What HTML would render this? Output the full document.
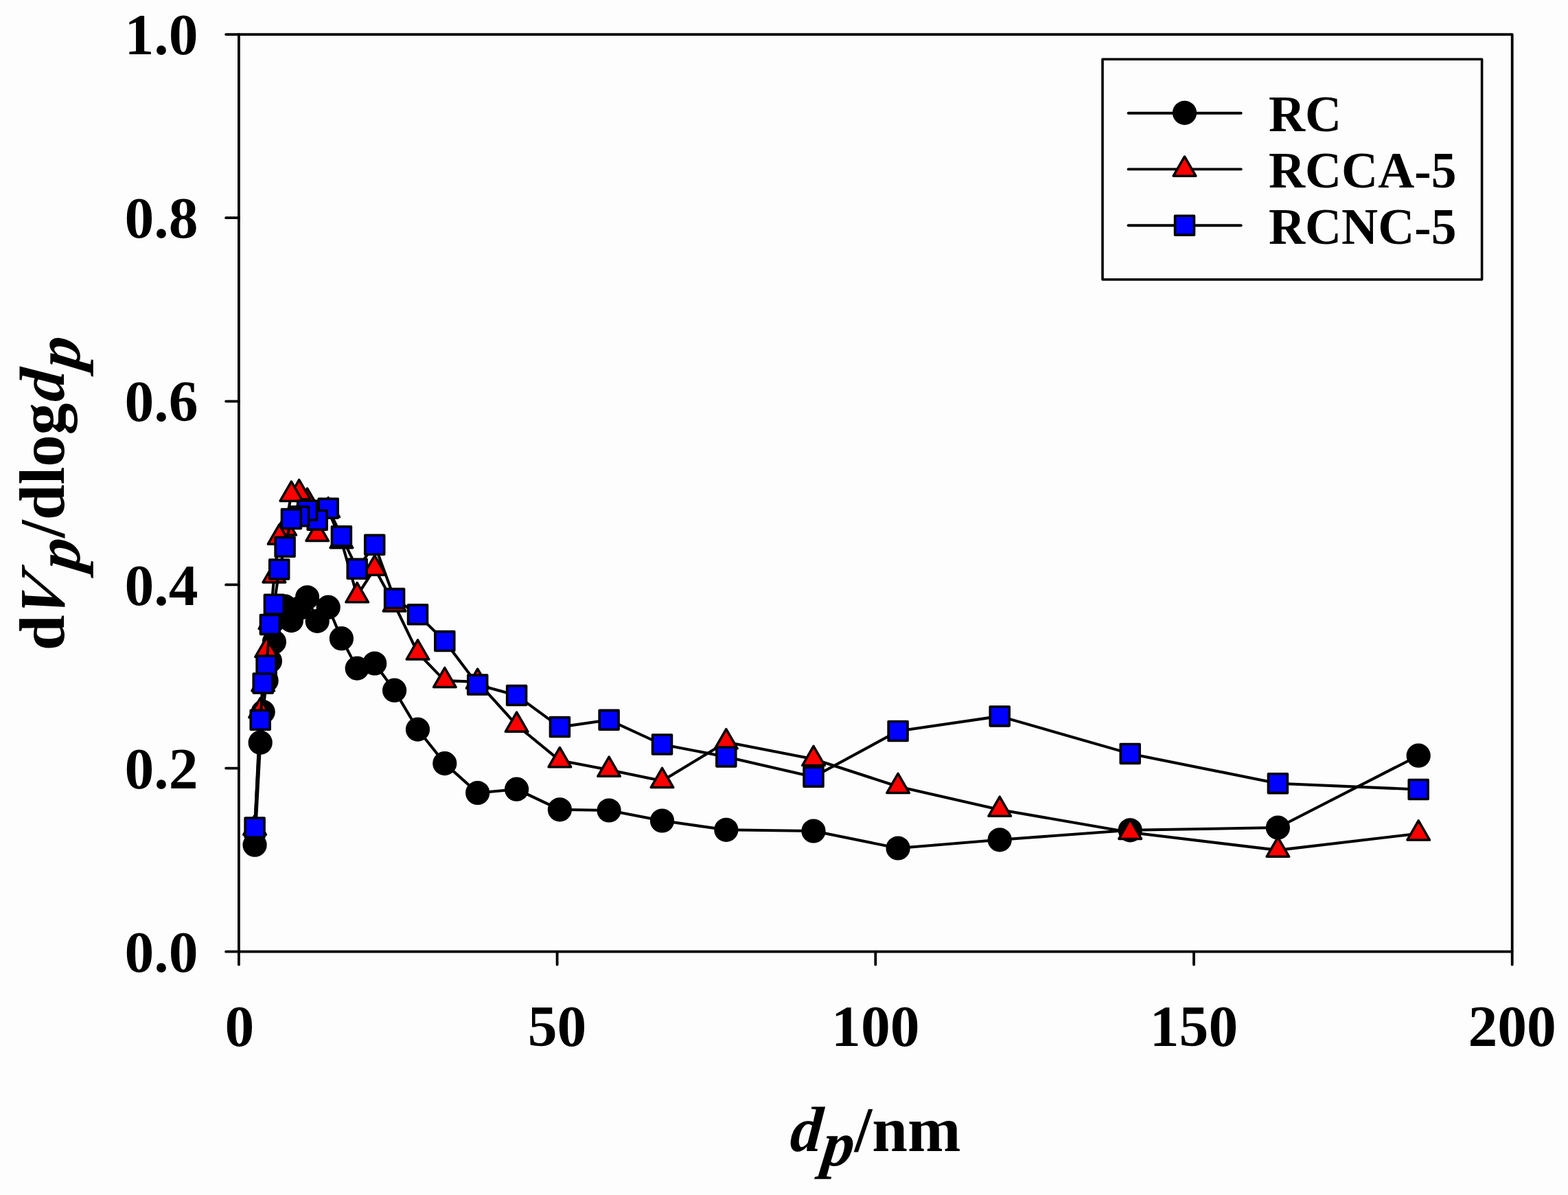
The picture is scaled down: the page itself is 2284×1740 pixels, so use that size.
<!DOCTYPE html>
<html lang="en"><head><meta charset="utf-8"><title>Pore size distribution</title>
<style>html,body{margin:0;padding:0;background:#fdfdfd}body{width:2284px;height:1740px;overflow:hidden}svg{display:block}text{font-family:"Liberation Serif",serif;font-weight:bold;fill:#000}.i{font-style:italic}.tk{font-size:85.6px}.lg{font-size:73.5px}.ax{font-size:93px}</style></head><body>
<svg width="2284" height="1740" viewBox="0 0 2284 1740">
<rect width="2284" height="1740" fill="#fdfdfd"/>
<g fill="none" stroke="#000" stroke-width="3.8" stroke-linecap="round" stroke-linejoin="round">
<rect x="347.9" y="50.05" width="1854.8" height="1335.65"/>
<path d="M347.9 1385.7h-18.8M347.9 1118.57h-18.8M347.9 851.44h-18.8M347.9 584.31h-18.8M347.9 317.18h-18.8M347.9 50.05h-18.8M347.9 1385.7v18.8M811.6 1385.7v18.8M1275.3 1385.7v18.8M1739 1385.7v18.8M2202.7 1385.7v18.8"/>
</g>
<g class="tk" text-anchor="end">
<text x="288.5" y="1415.2">0.0</text>
<text x="288.5" y="1147.87">0.2</text>
<text x="288.5" y="880.54">0.4</text>
<text x="288.5" y="613.21">0.6</text>
<text x="288.5" y="345.88">0.8</text>
<text x="288.5" y="78.55">1.0</text>
</g>
<g class="tk" text-anchor="middle">
<text x="348.9" y="1522.5">0</text>
<text x="811.6" y="1522.5">50</text>
<text x="1275.3" y="1522.5">100</text>
<text x="1739" y="1522.5">150</text>
<text x="2202.7" y="1522.5">200</text>
</g>
<g class="ax">
<text class="i" transform="translate(1149.6 1675.8) skewX(-4.5)">d</text>
<text class="i" transform="translate(1195.0 1696.8) skewX(-7)">p</text>
<text x="1244.5" y="1675.8">/nm</text>
</g>
<g class="ax" transform="translate(93.2 717.9) rotate(-90)">
<text x="-229.4" y="0">d</text>
<text class="i" transform="translate(-189.3 0) skewX(-16)">V</text>
<text class="i" transform="translate(-115.2 22.7) skewX(-7)">p</text>
<text x="-65.2" y="0">/dlog</text>
<text class="i" transform="translate(131.8 0) skewX(-4.5)">d</text>
<text class="i" transform="translate(178.3 22.7) skewX(-7)">p</text>
</g>
<g fill="none" stroke="#000" stroke-width="4.1" stroke-linejoin="round" stroke-linecap="round"><polyline points="371.1,1230.2 379.2,1081.2 383.2,1036.6 388.1,991 393.4,962.5 399.4,934.8 406.7,898.2 415.1,882.9 424.4,903.6 435.7,885.9 447.6,869.8 462.2,904.4 478.2,884.2 497.4,929.7 520.2,973.1 545.7,966 574.6,1005.2 608.5,1062.1 647.8,1111.6 695.7,1154.5 752.6,1149.2 815.4,1178.8 887.1,1180 964.5,1195 1057.8,1208.3 1185,1210 1308.1,1235 1456.2,1222.8 1646.2,1208.8 1861.4,1205 2066.2,1100.2"/></g>
<g fill="#000" stroke="#000" stroke-width="3.6" stroke-linejoin="round">
<circle cx="2066.2" cy="1100.2" r="15.8"/>
<circle cx="1861.4" cy="1205" r="15.8"/>
<circle cx="1646.2" cy="1208.8" r="15.8"/>
<circle cx="1456.2" cy="1222.8" r="15.8"/>
<circle cx="1308.1" cy="1235" r="15.8"/>
<circle cx="1185" cy="1210" r="15.8"/>
<circle cx="1057.8" cy="1208.3" r="15.8"/>
<circle cx="964.5" cy="1195" r="15.8"/>
<circle cx="887.1" cy="1180" r="15.8"/>
<circle cx="815.4" cy="1178.8" r="15.8"/>
<circle cx="752.6" cy="1149.2" r="15.8"/>
<circle cx="695.7" cy="1154.5" r="15.8"/>
<circle cx="647.8" cy="1111.6" r="15.8"/>
<circle cx="608.5" cy="1062.1" r="15.8"/>
<circle cx="574.6" cy="1005.2" r="15.8"/>
<circle cx="545.7" cy="966" r="15.8"/>
<circle cx="520.2" cy="973.1" r="15.8"/>
<circle cx="497.4" cy="929.7" r="15.8"/>
<circle cx="478.2" cy="884.2" r="15.8"/>
<circle cx="462.2" cy="904.4" r="15.8"/>
<circle cx="447.6" cy="869.8" r="15.8"/>
<circle cx="435.7" cy="885.9" r="15.8"/>
<circle cx="424.4" cy="903.6" r="15.8"/>
<circle cx="415.1" cy="882.9" r="15.8"/>
<circle cx="406.7" cy="898.2" r="15.8"/>
<circle cx="399.4" cy="934.8" r="15.8"/>
<circle cx="393.4" cy="962.5" r="15.8"/>
<circle cx="388.1" cy="991" r="15.8"/>
<circle cx="383.2" cy="1036.6" r="15.8"/>
<circle cx="379.2" cy="1081.2" r="15.8"/>
<circle cx="371.1" cy="1230.2" r="15.8"/>
</g>
<g fill="none" stroke="#000" stroke-width="4.1" stroke-linejoin="round" stroke-linecap="round"><polyline points="371.1,1206 379.2,1035.3 383.2,996.5 388.1,947.1 393.4,906.1 399.4,838.5 406.7,782.8 415.1,769.7 424.4,720 435.7,717.5 447.6,730 462.2,778.1 478.2,743.4 497.4,788.3 520.2,867.4 545.7,827.8 574.6,880.5 608.5,950.6 647.8,991.1 695.7,992.8 752.6,1055.9 815.4,1107.3 887.1,1120.9 964.5,1137.1 1057.8,1080.5 1185,1105.2 1308.1,1145.2 1456.2,1178.9 1646.2,1212 1861.4,1237.9 2066.2,1213.7"/></g>
<g fill="#f00" stroke="#000" stroke-width="3.5" stroke-linejoin="round">
<path d="M2066.2 1194.87L2082.5 1223.12H2049.9Z"/>
<path d="M1861.4 1219.07L1877.7 1247.32H1845.1Z"/>
<path d="M1646.2 1193.17L1662.5 1221.42H1629.9Z"/>
<path d="M1456.2 1160.07L1472.5 1188.32H1439.9Z"/>
<path d="M1308.1 1126.37L1324.4 1154.62H1291.8Z"/>
<path d="M1185 1086.37L1201.3 1114.62H1168.7Z"/>
<path d="M1057.8 1061.67L1074.1 1089.92H1041.5Z"/>
<path d="M964.5 1118.27L980.8 1146.52H948.2Z"/>
<path d="M887.1 1102.07L903.4 1130.32H870.8Z"/>
<path d="M815.4 1088.47L831.7 1116.72H799.1Z"/>
<path d="M752.6 1037.07L768.9 1065.32H736.3Z"/>
<path d="M695.7 973.97L712 1002.22H679.4Z"/>
<path d="M647.8 972.27L664.1 1000.52H631.5Z"/>
<path d="M608.5 931.77L624.8 960.02H592.2Z"/>
<path d="M574.6 861.67L590.9 889.92H558.3Z"/>
<path d="M545.7 808.97L562 837.22H529.4Z"/>
<path d="M520.2 848.57L536.5 876.82H503.9Z"/>
<path d="M497.4 769.47L513.7 797.72H481.1Z"/>
<path d="M478.2 724.57L494.5 752.82H461.9Z"/>
<path d="M462.2 759.27L478.5 787.52H445.9Z"/>
<path d="M447.6 711.17L463.9 739.42H431.3Z"/>
<path d="M435.7 698.67L452 726.92H419.4Z"/>
<path d="M424.4 701.17L440.7 729.42H408.1Z"/>
<path d="M415.1 750.87L431.4 779.12H398.8Z"/>
<path d="M406.7 763.97L423 792.22H390.4Z"/>
<path d="M399.4 819.67L415.7 847.92H383.1Z"/>
<path d="M393.4 887.27L409.7 915.52H377.1Z"/>
<path d="M388.1 928.27L404.4 956.52H371.8Z"/>
<path d="M383.2 977.67L399.5 1005.92H366.9Z"/>
<path d="M379.2 1016.47L395.5 1044.72H362.9Z"/>
<path d="M371.1 1187.17L387.4 1215.42H354.8Z"/>
</g>
<g fill="none" stroke="#000" stroke-width="4.1" stroke-linejoin="round" stroke-linecap="round"><polyline points="371.1,1205 379.2,1048.3 383.2,995 388.1,969 393.4,909.4 399.4,880.2 406.7,829.1 415.1,796.3 424.4,755.6 435.7,751.8 447.6,743.2 462.2,757.2 478.2,740.3 497.4,780.8 520.2,828.3 545.7,793.3 574.6,871.6 608.5,894.8 647.8,933.6 695.7,997.1 752.6,1012.6 815.4,1058.6 887.1,1048.3 964.5,1084 1057.8,1101.9 1185,1131.2 1308.1,1064.5 1456.2,1042.9 1646.2,1097.4 1861.4,1140.7 2066.2,1149.5"/></g>
<g fill="#00f" stroke="#000" stroke-width="3.6" stroke-linejoin="round">
<rect x="2052.25" y="1135.55" width="27.9" height="27.9"/>
<rect x="1847.45" y="1126.75" width="27.9" height="27.9"/>
<rect x="1632.25" y="1083.45" width="27.9" height="27.9"/>
<rect x="1442.25" y="1028.95" width="27.9" height="27.9"/>
<rect x="1294.15" y="1050.55" width="27.9" height="27.9"/>
<rect x="1171.05" y="1117.25" width="27.9" height="27.9"/>
<rect x="1043.85" y="1087.95" width="27.9" height="27.9"/>
<rect x="950.55" y="1070.05" width="27.9" height="27.9"/>
<rect x="873.15" y="1034.35" width="27.9" height="27.9"/>
<rect x="801.45" y="1044.65" width="27.9" height="27.9"/>
<rect x="738.65" y="998.65" width="27.9" height="27.9"/>
<rect x="681.75" y="983.15" width="27.9" height="27.9"/>
<rect x="633.85" y="919.65" width="27.9" height="27.9"/>
<rect x="594.55" y="880.85" width="27.9" height="27.9"/>
<rect x="560.65" y="857.65" width="27.9" height="27.9"/>
<rect x="531.75" y="779.35" width="27.9" height="27.9"/>
<rect x="506.25" y="814.35" width="27.9" height="27.9"/>
<rect x="483.45" y="766.85" width="27.9" height="27.9"/>
<rect x="464.25" y="726.35" width="27.9" height="27.9"/>
<rect x="448.25" y="743.25" width="27.9" height="27.9"/>
<rect x="433.65" y="729.25" width="27.9" height="27.9"/>
<rect x="421.75" y="737.85" width="27.9" height="27.9"/>
<rect x="410.45" y="741.65" width="27.9" height="27.9"/>
<rect x="401.15" y="782.35" width="27.9" height="27.9"/>
<rect x="392.75" y="815.15" width="27.9" height="27.9"/>
<rect x="385.45" y="866.25" width="27.9" height="27.9"/>
<rect x="379.45" y="895.45" width="27.9" height="27.9"/>
<rect x="374.15" y="955.05" width="27.9" height="27.9"/>
<rect x="369.25" y="981.05" width="27.9" height="27.9"/>
<rect x="365.25" y="1034.35" width="27.9" height="27.9"/>
<rect x="357.15" y="1191.05" width="27.9" height="27.9"/>
</g>
<rect x="1606.0" y="86.3" width="552.6" height="320.7" fill="#fdfdfd" stroke="#000" stroke-width="3.6" stroke-linejoin="round"/>
<g fill="none" stroke="#000" stroke-width="3.9" stroke-linecap="round">
<path d="M1643.6 164.7H1807.7"/>
<path d="M1643.6 246.4H1807.7"/>
<path d="M1643.6 328.3H1807.7"/>
</g>
<g stroke="#000" stroke-width="3.6" stroke-linejoin="round">
<g fill="#000"><circle cx="1725.5" cy="164.3" r="15.8"/></g><g fill="#f00" stroke-width="3.5"><path d="M1725.5 227.97L1741.8 256.22H1709.2Z"/></g><g fill="#00f"><rect x="1711.55" y="314.25" width="27.9" height="27.9"/></g>
</g>
<g class="lg">
<text x="1847.9" y="190.8">RC</text>
<text x="1847.9" y="272.8">RCCA-5</text>
<text x="1847.9" y="354.9">RCNC-5</text>
</g>
</svg></body></html>
